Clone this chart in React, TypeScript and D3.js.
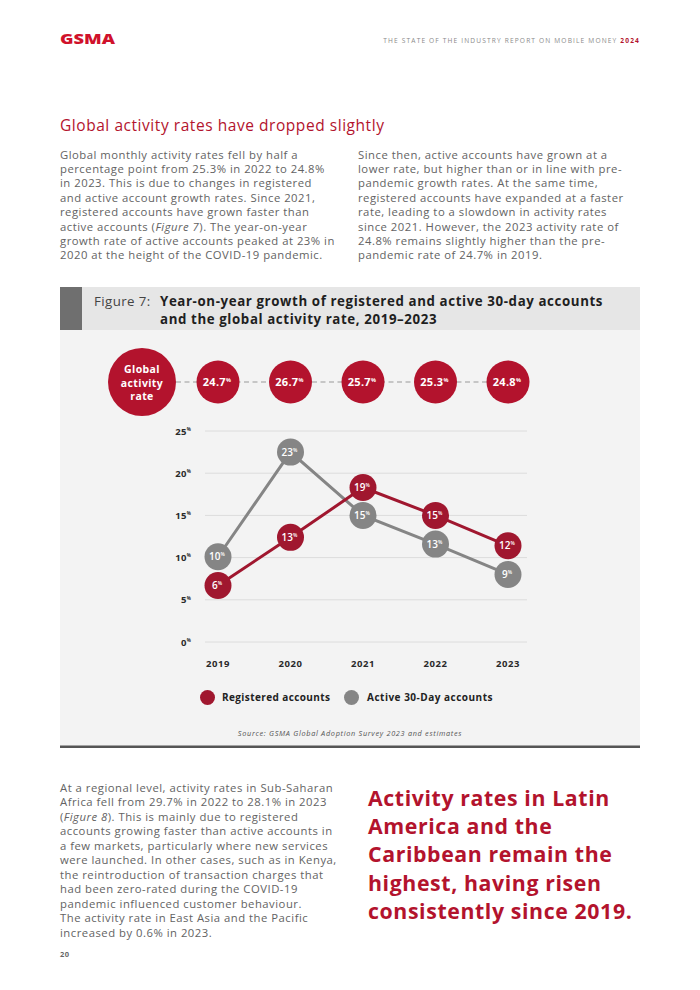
import React from "react";
import * as d3 from "d3";

const years = ["2019", "2020", "2021", "2022", "2023"];
const globalRate = [24.7, 26.7, 25.7, 25.3, 24.8];
const registered = [6.7, 12.4, 18.3, 15.0, 11.4];
const registeredLabels = ["6", "13", "19", "15", "12"];
const active = [10.1, 22.5, 15.0, 11.6, 8.0];
const activeLabels = ["10", "23", "15", "13", "9"];
const yTicks = [0, 5, 10, 15, 20, 25];

const leftPara = [
  "Global monthly activity rates fell by half a",
  "percentage point from 25.3% in 2022 to 24.8%",
  "in 2023. This is due to changes in registered",
  "and active account growth rates. Since 2021,",
  "registered accounts have grown faster than",
  "__FIG7__",
  "growth rate of active accounts peaked at 23% in",
  "2020 at the height of the COVID-19 pandemic.",
];
const rightPara = [
  "Since then, active accounts have grown at a",
  "lower rate, but higher than or in line with pre-",
  "pandemic growth rates. At the same time,",
  "registered accounts have expanded at a faster",
  "rate, leading to a slowdown in activity rates",
  "since 2021. However, the 2023 activity rate of",
  "24.8% remains slightly higher than the pre-",
  "pandemic rate of 24.7% in 2019.",
];
const bottomPara = [
  "At a regional level, activity rates in Sub-Saharan",
  "Africa fell from 29.7% in 2022 to 28.1% in 2023",
  "__FIG8__",
  "accounts growing faster than active accounts in",
  "a few markets, particularly where new services",
  "were launched. In other cases, such as in Kenya,",
  "the reintroduction of transaction charges that",
  "had been zero-rated during the COVID-19",
  "pandemic influenced customer behaviour.",
  "The activity rate in East Asia and the Pacific",
  "increased by 0.6% in 2023.",
];
const quoteLines = [
  "Activity rates in Latin",
  "America and the",
  "Caribbean remain the",
  "highest, having risen",
  "consistently since 2019.",
];

const FONT = "'Open Sans', 'DejaVu Sans', sans-serif";
const RED = "#b3132d";
const REG = "#a0172f";
const GREY = "#858585";
const TEXT = "#636363";

function Pct({ v, size, sup }: { v: string; size: number; sup: number }) {
  return (
    <>
      <tspan fontSize={size}>{v}</tspan>
      <tspan fontSize={sup} dy={-size * 0.38}>%</tspan>
    </>
  );
}

function ParaLine({ line, x, y }: { line: string; x: number; y: number }) {
  if (line === "__FIG7__") {
    return (
      <text x={x} y={y}>
        active accounts (<tspan fontStyle="italic">Figure 7</tspan>). The year-on-year
      </text>
    );
  }
  if (line === "__FIG8__") {
    return (
      <text x={x} y={y}>
        (<tspan fontStyle="italic">Figure 8</tspan>). This is mainly due to registered
      </text>
    );
  }
  return <text x={x} y={y}>{line}</text>;
}

export default function App() {
  const x = d3.scalePoint<string>().domain(years).range([218, 508]);
  const y = d3.scaleLinear().domain([0, 25]).range([642, 431]);
  const line = d3
    .line<number>()
    .x((_, i) => x(years[i]) as number)
    .y((d) => y(d));
  const circleY = 382;
  const gridX0 = 205;
  const gridX1 = 527;

  return (
    <svg
      width={700}
      height={990}
      style={{ position: "absolute", left: 0, top: 0, background: "#fff" }}
      fontFamily={FONT}
    >
      <rect x={0} y={0} width={700} height={990} fill="#fff" />
      {/* header */}
      <text
        x={60}
        y={44}
        fill="#d0112b"
        fontSize={14}
        fontWeight={800}
        textLength={55}
        lengthAdjust="spacingAndGlyphs"
      >
        GSMA
      </text>
      <text x={640} y={42.5} textAnchor="end" fontSize={6.6} fill="#8a8a8a" letterSpacing={1.15}>
        THE STATE OF THE INDUSTRY REPORT ON MOBILE MONEY{" "}
        <tspan fill={RED} fontWeight={700}>2024</tspan>
      </text>

      {/* section title */}
      <text x={60} y={130.5} fill={RED} fontSize={15.5} fontWeight={500} letterSpacing={0.55}>
        Global activity rates have dropped slightly
      </text>

      <g fill={TEXT} fontSize={11.3} letterSpacing={0.5}>
        {leftPara.map((l, i) => (
          <ParaLine key={"l" + i} line={l} x={60} y={158.5 + i * 14.4} />
        ))}
        {rightPara.map((l, i) => (
          <ParaLine key={"r" + i} line={l} x={358} y={158.5 + i * 14.4} />
        ))}
      </g>

      {/* figure box */}
      <rect x={60} y={287} width={580} height={43} fill="#e6e6e6" />
      <rect x={60} y={287} width={22} height={43} fill="#6f6f6f" />
      <rect x={60} y={330} width={580} height={416} fill="#f3f3f3" />
      <rect x={60} y={745.5} width={580} height={2.5} fill="#555" />
      <g fontSize={13.3} fill="#1f1f1f" letterSpacing={0.6}>
        <text x={94} y={305.5} fontWeight={400} fill="#444" letterSpacing={0.4}>Figure 7:</text>
        <text x={160} y={305.5} fontWeight={700}>
          Year-on-year growth of registered and active 30-day accounts
        </text>
        <text x={160} y={323.5} fontWeight={700}>
          and the global activity rate, 2019–2023
        </text>
      </g>

      {/* global activity rate row */}
      <line
        x1={142 + 34}
        x2={(x("2023") as number) - 21}
        y1={circleY}
        y2={circleY}
        stroke="#9a9a9a"
        strokeWidth={1.2}
        strokeDasharray="5,3.5"
      />
      <circle cx={142} cy={circleY} r={34} fill={RED} />
      <g fill="#fff" fontSize={10.5} fontWeight={700} textAnchor="middle" letterSpacing={0.4}>
        <text x={142} y={circleY - 9}>Global</text>
        <text x={142} y={circleY + 4.5}>activity</text>
        <text x={142} y={circleY + 18}>rate</text>
      </g>
      {globalRate.map((v, i) => (
        <g key={"g" + i}>
          <circle cx={x(years[i]) as number} cy={circleY} r={21.5} fill={RED} />
          <text
            x={(x(years[i]) as number) - 1}
            y={circleY + 4}
            fill="#fff"
            fontWeight={700}
            textAnchor="middle"
            letterSpacing={0.3}
          >
            <Pct v={v.toFixed(1)} size={11} sup={5.5} />
          </text>
        </g>
      ))}

      {/* grid + y axis */}
      {yTicks.map((t) => (
        <g key={"t" + t}>
          <line x1={gridX0} x2={gridX1} y1={y(t)} y2={y(t)} stroke="#dcdcdc" strokeWidth={1} />
          <text x={191} y={y(t) + 3.5} textAnchor="end" fill="#2a2a2a" fontWeight={700} letterSpacing={0.3}>
            <Pct v={String(t)} size={9.5} sup={4.5} />
          </text>
        </g>
      ))}
      {years.map((yr) => (
        <text
          key={yr}
          x={x(yr) as number}
          y={667}
          textAnchor="middle"
          fontSize={9.5}
          fontWeight={700}
          fill="#2a2a2a"
          letterSpacing={0.6}
        >
          {yr}
        </text>
      ))}

      {/* active series */}
      <path d={line(active) || ""} fill="none" stroke={GREY} strokeWidth={3} />
      {active.map((v, i) => (
        <g key={"a" + i}>
          <circle cx={x(years[i]) as number} cy={y(v)} r={13.5} fill={GREY} />
          <text x={(x(years[i]) as number) - 1} y={y(v) + 3.5} fill="#fff" fontWeight={600} textAnchor="middle">
            <Pct v={activeLabels[i]} size={10} sup={5} />
          </text>
        </g>
      ))}
      {/* registered series */}
      <path d={line(registered) || ""} fill="none" stroke={REG} strokeWidth={3} />
      {registered.map((v, i) => (
        <g key={"r" + i}>
          <circle cx={x(years[i]) as number} cy={y(v)} r={13.5} fill={REG} />
          <text x={(x(years[i]) as number) - 1} y={y(v) + 3.5} fill="#fff" fontWeight={600} textAnchor="middle">
            <Pct v={registeredLabels[i]} size={10} sup={5} />
          </text>
        </g>
      ))}

      {/* legend */}
      <circle cx={207.5} cy={697.5} r={7.5} fill={REG} />
      <text x={222} y={701} fontSize={10} fontWeight={700} fill="#222" letterSpacing={0.4}>
        Registered accounts
      </text>
      <circle cx={351.5} cy={697.5} r={7.5} fill={GREY} />
      <text x={367} y={701} fontSize={10} fontWeight={700} fill="#222" letterSpacing={0.5}>
        Active 30-Day accounts
      </text>

      <text x={350} y={736} textAnchor="middle" fontSize={7.3} fontStyle="italic" fill="#555" letterSpacing={0.7}>
        Source: GSMA Global Adoption Survey 2023 and estimates
      </text>

      {/* bottom paragraph */}
      <g fill={TEXT} fontSize={11.3} letterSpacing={0.5}>
        {bottomPara.map((l, i) => (
          <ParaLine key={"b" + i} line={l} x={60} y={791.5 + i * 14.5} />
        ))}
      </g>
      <text x={60} y={957} fontSize={7.5} fontWeight={700} fill="#666" letterSpacing={0.5}>20</text>

      {/* pull quote */}
      <g fill={RED} fontSize={21.3} fontWeight={700} letterSpacing={0.6}>
        {quoteLines.map((l, i) => (
          <text key={"q" + i} x={368} y={805.5 + i * 28.4}>{l}</text>
        ))}
      </g>
    </svg>
  );
}
